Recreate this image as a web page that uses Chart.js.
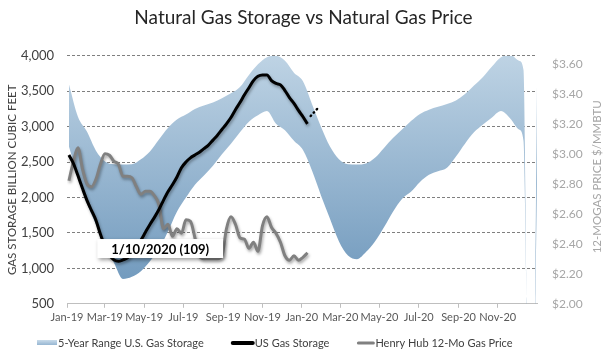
<!DOCTYPE html>
<html lang="en">
<head>
<meta charset="UTF-8">
<title>Natural Gas Storage vs Natural Gas Price</title>
<style>
  html, body { margin: 0; padding: 0; background: #fff; }
  .chart-container { width: 607px; height: 361px; }
</style>
</head>
<body>
<div class="chart-container"><canvas id="gas-chart"></canvas></div>
<script src="https://cdn.jsdelivr.net/npm/chart.js"></script>
<script>
// x values are day offsets from Jan 1, 2019
const tickDays = [0, 59, 120, 181, 243, 304, 365, 425, 486, 547, 609, 670];
const tickLabels = ['Jan-19', 'Mar-19', 'May-19', 'Jul-19', 'Sep-19', 'Nov-19',
                    'Jan-20', 'Mar-20', 'May-20', 'Jul-20', 'Sep-20', 'Nov-20'];
const priceTicks = [2.0, 2.2, 2.4, 2.6, 2.8, 3.0, 3.2, 3.4, 3.6];

// 5-year range (Bcf), roughly every two weeks
const bandDays = [3, 17, 31, 45, 59, 73, 87, 101, 115, 129, 143, 157, 171, 185, 199, 213, 227, 241,
                  255, 269, 283, 297, 311, 325, 339, 353, 367, 381, 395, 409, 423, 437, 451, 465, 479,
                  493, 507, 521, 535, 549, 563, 577, 591, 605, 619, 633, 647, 661, 675, 689, 703,
                  710, 717, 727, 731];
const bandHigh = [3600, 3140, 2930, 2660, 2510, 2470, 2465, 2470, 2540, 2650,
                  2820, 2980, 3100, 3170, 3250, 3300, 3340, 3400, 3470, 3560,
                  3730, 3880, 3980, 4000, 3930, 3760, 3640, 3320, 3000, 2720,
                  2540, 2470, 2465, 2480, 2560, 2700, 2840, 2960, 3080, 3180,
                  3240, 3280, 3320, 3370, 3460, 3580, 3700, 3850, 3980, 4020,
                  3930, 3800, 0, 0, 3600];
const bandLow = [2720, 2290, 1920, 1620, 1320, 1080, 850, 880, 960, 1100,
                 1270, 1520, 1800, 2000, 2180, 2310, 2450, 2610, 2760, 2920,
                 3070, 3160, 3220, 3040, 2950, 2800, 2670, 2380, 2030, 1700,
                 1380, 1180, 1130, 1230, 1380, 1580, 1800, 1980, 2080, 2220,
                 2320, 2370, 2420, 2580, 2760, 2920, 3030, 3130, 3220, 3120,
                 2960, 2800, 0, 0, 2200];

// weekly reports, first one Jan 4, 2019, last one Jan 10, 2020
const firstReportDay = 3;
const storage = [2600, 2480, 2310, 2130, 1960, 1820, 1680, 1480, 1310, 1190,
                 1120, 1100, 1120, 1150, 1230, 1320, 1400, 1510, 1620, 1720,
                 1830, 1960, 2080, 2180, 2290, 2420, 2500, 2560, 2600, 2640,
                 2690, 2740, 2810, 2880, 2960, 3040, 3130, 3240, 3340, 3450,
                 3550, 3650, 3710, 3730, 3730, 3650, 3610, 3590, 3510, 3410,
                 3330, 3230, 3140, 3040];
const hubPrice = [2.82, 2.95, 3.04, 2.90, 2.80, 2.78, 2.83, 2.93, 3.00, 2.99,
                  2.95, 2.93, 2.85, 2.85, 2.84, 2.78, 2.73, 2.75, 2.75, 2.72,
                  2.66, 2.50, 2.53, 2.45, 2.50, 2.47, 2.56, 2.55, 2.44, 2.32,
                  2.30, 2.30, 2.30, 2.30, 2.32, 2.50, 2.58, 2.53, 2.44, 2.43,
                  2.37, 2.41, 2.35, 2.52, 2.58, 2.51, 2.47, 2.41, 2.32, 2.29,
                  2.32, 2.29, 2.31, 2.34];

const projDays = [379, 393];
const projStorage = [3150, 3290];

const callout = { text: '1/10/2020 (109)', day: 145, value: 1280 };

const weekly = values => values.map((v, i) => ({ x: firstReportDay + 7 * i, y: v }));
const pairs = (xs, ys) => xs.map((x, i) => ({ x: x, y: ys[i] }));

function bandGradient(chart) {
    const area = chart.chartArea;
    if (!area) return '#9fbcd4';
    const g = chart.ctx.createLinearGradient(0, area.top, 0, area.bottom);
    g.addColorStop(0, '#bed3e4');
    g.addColorStop(1, '#6b95ba');
    return g;
}

const legendItems = [
    { text: '5-Year Range U.S. Gas Storage', band: true, width: 20 },
    { text: 'US Gas Storage', color: '#000', line: 4, width: 23 },
    { text: 'Henry Hub 12-Mo Gas Price', color: '#808080', line: 3, width: 18 }
];

const extras = {
    id: 'extras',
    beforeDatasetDraw(chart, args) {
        if (!chart.data.datasets[args.index].shadow) return;
        const ctx = chart.ctx;
        ctx.save();
        ctx.shadowColor = 'rgba(0,0,0,0.35)';
        ctx.shadowBlur = 3;
        ctx.shadowOffsetX = 1;
        ctx.shadowOffsetY = 2;
    },
    afterDatasetDraw(chart, args) {
        if (chart.data.datasets[args.index].shadow) chart.ctx.restore();
    },
    afterDraw(chart) {
        const ctx = chart.ctx;
        const xs = chart.scales.x, ys = chart.scales.y;
        const area = chart.chartArea;

        // callout box
        ctx.save();
        ctx.font = 'bold 13px Lato';
        const w = ctx.measureText(callout.text).width + 28;
        const h = 19;
        const cx = xs.getPixelForValue(callout.day);
        const cy = ys.getPixelForValue(callout.value);
        ctx.shadowColor = 'rgba(0,0,0,0.4)';
        ctx.shadowBlur = 4;
        ctx.shadowOffsetX = 2;
        ctx.shadowOffsetY = 2;
        ctx.fillStyle = '#fff';
        ctx.fillRect(cx - w / 2, cy - h / 2, w, h);
        ctx.shadowColor = 'transparent';
        ctx.fillStyle = '#000';
        ctx.textAlign = 'center';
        ctx.textBaseline = 'middle';
        ctx.fillText(callout.text, cx, cy + 1);
        ctx.restore();

        // right axis title, reads bottom to top
        ctx.save();
        ctx.translate(chart.width - 10, (area.top + area.bottom) / 2 - 3);
        ctx.rotate(-Math.PI / 2);
        ctx.font = '11.5px Lato';
        ctx.fillStyle = '#a6a6a6';
        ctx.textAlign = 'center';
        ctx.textBaseline = 'middle';
        ctx.fillText('12-MOGAS PRICE $/MMBTU', 0, 0);
        ctx.restore();

        // legend
        ctx.save();
        ctx.font = '11px Lato';
        ctx.textBaseline = 'middle';
        let x = 37;
        const y = chart.height - 18;
        legendItems.forEach(item => {
            if (item.band) {
                const g = ctx.createLinearGradient(0, y - 3, 0, y + 3);
                g.addColorStop(0, '#c9dbea');
                g.addColorStop(1, '#8cafcd');
                ctx.fillStyle = g;
                ctx.fillRect(x, y - 3, item.width, 5);
            } else {
                ctx.strokeStyle = item.color;
                ctx.lineWidth = item.line;
                ctx.lineCap = 'round';
                ctx.beginPath();
                ctx.moveTo(x + 2, y);
                ctx.lineTo(x + item.width - 1, y);
                ctx.stroke();
            }
            x += item.width + 1;
            ctx.fillStyle = '#404040';
            ctx.fillText(item.text, x, y);
            x += ctx.measureText(item.text).width + 27;
        });
        ctx.restore();
    }
};

Chart.defaults.font.family = "Lato, 'Liberation Sans', sans-serif";

const chart = new Chart(document.getElementById('gas-chart'), {
    type: 'line',
    data: {
        datasets: [
            {
                label: '5-Year Range U.S. Gas Storage',
                data: pairs(bandDays, bandHigh),
                yAxisID: 'y',
                borderWidth: 0,
                pointRadius: 0,
                cubicInterpolationMode: 'monotone',
                fill: '+1',
                backgroundColor: ctx => bandGradient(ctx.chart),
                order: 3
            },
            {
                label: 'range low',
                data: pairs(bandDays, bandLow),
                yAxisID: 'y',
                borderWidth: 0,
                pointRadius: 0,
                cubicInterpolationMode: 'monotone',
                fill: false,
                order: 3
            },
            {
                label: 'US Gas Storage',
                data: weekly(storage),
                yAxisID: 'y',
                borderColor: '#000',
                borderWidth: 3,
                pointRadius: 0,
                cubicInterpolationMode: 'monotone',
                borderJoinStyle: 'round',
                shadow: true,
                order: 1
            },
            {
                label: 'projection',
                data: pairs(projDays, projStorage),
                yAxisID: 'y',
                borderColor: '#000',
                borderWidth: 2.5,
                borderDash: [0.5, 4],
                borderCapStyle: 'round',
                pointRadius: 0,
                order: 1
            },
            {
                label: 'Henry Hub 12-Mo Gas Price',
                data: weekly(hubPrice),
                yAxisID: 'y1',
                borderColor: '#808080',
                borderWidth: 3,
                pointRadius: 0,
                cubicInterpolationMode: 'monotone',
                borderJoinStyle: 'round',
                shadow: true,
                order: 2
            }
        ]
    },
    options: {
        responsive: true,
        maintainAspectRatio: false,
        animation: false,
        layout: { padding: { left: 0, right: 0, top: 0, bottom: 34 } },
        plugins: {
            legend: { display: false },
            tooltip: { enabled: false },
            title: {
                display: true,
                text: 'Natural Gas Storage vs Natural Gas Price',
                color: '#262626',
                font: { size: 19, weight: 'normal' },
                padding: { top: 6, bottom: 27 }
            }
        },
        scales: {
            x: {
                type: 'linear',
                min: 0,
                max: 731,
                afterBuildTicks: s => { s.ticks = tickDays.map(v => ({ value: v })); },
                ticks: {
                    autoSkip: false,
                    maxRotation: 0,
                    padding: 3,
                    color: '#595959',
                    font: { size: 11 },
                    callback: v => tickLabels[tickDays.indexOf(v)]
                },
                grid: { drawOnChartArea: false, drawTicks: true, tickLength: 4, color: '#bfbfbf' },
                border: { color: '#bfbfbf' }
            },
            y: {
                position: 'left',
                min: 500,
                max: 4000,
                z: 1,
                afterFit: s => { s.width = 67; },
                ticks: {
                    stepSize: 500,
                    padding: 13,
                    color: '#404040',
                    font: { size: 13 },
                    callback: v => v.toLocaleString('en-US')
                },
                grid: {
                    drawTicks: false,
                    color: c => c.tick && c.tick.value === 500 ? 'rgba(0,0,0,0)' : '#7f7f7f'
                },
                border: { display: false, dash: [3, 2] },
                title: {
                    display: true,
                    text: 'GAS STORAGE BILLION CUBIC FEET',
                    color: '#404040',
                    font: { size: 11.5 },
                    padding: { top: 5, bottom: 0 }
                }
            },
            y1: {
                position: 'right',
                min: 2.0,
                max: 3.653,
                afterFit: s => { s.width = 70; },
                afterBuildTicks: s => { s.ticks = priceTicks.map(v => ({ value: v })); },
                ticks: {
                    padding: 15,
                    color: '#a6a6a6',
                    font: { size: 12 },
                    callback: v => '$' + v.toFixed(2)
                },
                grid: { display: false, drawTicks: false },
                border: { display: false }
            }
        }
    },
    plugins: [extras]
});
</script>
</body>
</html>
